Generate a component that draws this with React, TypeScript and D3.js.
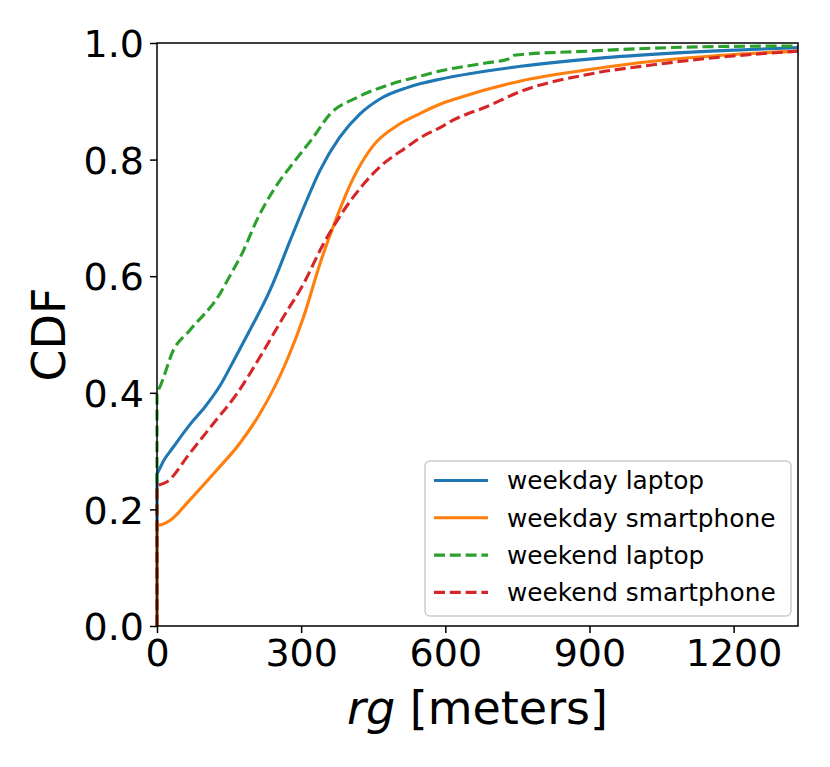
import React, { useEffect, useRef } from 'react';
import * as d3 from 'd3';

// readings (rg in meters, CDF value)
const blueX = [0, 0, 15, 34, 68, 100, 131, 162, 200, 225, 241, 277, 311, 339, 380, 422, 464, 519, 547, 589, 757, 966, 1176, 1334];
const blueY = [0, 0.26, 0.285, 0.307, 0.345, 0.376, 0.412, 0.459, 0.518, 0.558, 0.587, 0.661, 0.729, 0.781, 0.838, 0.878, 0.904, 0.923, 0.93, 0.938, 0.96, 0.977, 0.987, 0.992];

const orangeX = [0, 0, 10, 27, 68, 124, 172, 214, 270, 305, 339, 374, 409, 450, 505, 547, 589, 617, 757, 896, 1037, 1176, 1334];
const orangeY = [0, 0.172, 0.174, 0.181, 0.216, 0.267, 0.313, 0.364, 0.455, 0.53, 0.621, 0.701, 0.769, 0.824, 0.861, 0.879, 0.895, 0.903, 0.935, 0.954, 0.969, 0.979, 0.986];

const greenX = [0, 0, 6, 34, 68, 131, 152, 180, 207, 242, 287, 325, 360, 415, 485, 547, 589, 687, 730, 743, 896, 1106, 1334];
const greenY = [0, 0.4, 0.41, 0.473, 0.507, 0.57, 0.601, 0.644, 0.695, 0.747, 0.798, 0.838, 0.878, 0.906, 0.929, 0.943, 0.952, 0.966, 0.972, 0.979, 0.986, 0.993, 0.995];

const redX = [0, 0, 20, 68, 117, 166, 214, 263, 305, 346, 388, 430, 467, 519, 547, 589, 617, 687, 757, 896, 1037, 1176, 1334];
const redY = [0, 0.241, 0.247, 0.296, 0.347, 0.398, 0.461, 0.53, 0.587, 0.655, 0.712, 0.758, 0.79, 0.821, 0.837, 0.855, 0.868, 0.891, 0.917, 0.946, 0.963, 0.976, 0.986];

const seriesNames = ['weekday laptop', 'weekday smartphone', 'weekend laptop', 'weekend smartphone'];
const xTicks = [0, 300, 600, 900, 1200];
const yTicks = [0, 0.2, 0.4, 0.6, 0.8, 1.0];

const series = [
  { name: seriesNames[0], xs: blueX, ys: blueY, color: '#1f77b4', dashed: false },
  { name: seriesNames[1], xs: orangeX, ys: orangeY, color: '#ff7f0e', dashed: false },
  { name: seriesNames[2], xs: greenX, ys: greenY, color: '#2ca02c', dashed: true },
  { name: seriesNames[3], xs: redX, ys: redY, color: '#d62728', dashed: true },
];

const W = 830;
const H = 767;
const margin = { top: 43, right: 32, bottom: 141, left: 157 };
const FONT = 'DejaVu Sans, sans-serif';

export default function App() {
  const svgRef = useRef<SVGSVGElement>(null);

  useEffect(() => {
    if (!svgRef.current) return;
    const root = d3.select(svgRef.current);
    root.selectAll('*').remove();

    const innerW = W - margin.left - margin.right;
    const innerH = H - margin.top - margin.bottom;

    const x = d3.scaleLinear().domain([0, 1334]).range([0, innerW]);
    const y = d3.scaleLinear().domain([0, 1]).range([innerH, 0]);

    const svg = root.append('g').attr('transform', `translate(${margin.left},${margin.top})`);

    // curves: vertical jump at 0, then a smooth line through the readings
    const line = d3.line<[number, number]>()
      .x((d: [number, number]) => x(d[0]))
      .y((d: [number, number]) => y(d[1]))
      .curve(d3.curveMonotoneX);

    series.forEach((s) => {
      const pts: [number, number][] = s.xs.map((v, i) => [v, s.ys[i]] as [number, number]);
      const rest = line(pts.slice(1)) || '';
      const d = rest.replace(/^M/, `M${x(pts[0][0])},${y(pts[0][1])}L`);
      svg.append('path')
        .attr('d', d)
        .attr('fill', 'none')
        .attr('stroke', s.color)
        .attr('stroke-width', 3.1)
        .attr('stroke-dasharray', s.dashed ? '11,4.8' : null);
    });

    // axes
    const xAxis = svg.append('g')
      .attr('transform', `translate(0,${innerH})`)
      .call(d3.axisBottom(x).tickValues(xTicks).tickSize(7).tickPadding(6).tickFormat(d3.format('d')));
    const yAxis = svg.append('g')
      .call(d3.axisLeft(y).tickValues(yTicks).tickSize(7).tickPadding(6).tickFormat(d3.format('.1f')));

    [xAxis, yAxis].forEach((a) => {
      a.select('.domain').remove();
      a.selectAll('line').attr('stroke', '#000').attr('stroke-width', 1.5);
      a.selectAll('text')
        .attr('fill', '#000')
        .style('font-family', FONT)
        .style('font-size', '38px');
    });
    yAxis.selectAll('text').attr('dy', '0.36em');

    // frame
    svg.append('rect')
      .attr('x', 0)
      .attr('y', 0)
      .attr('width', innerW)
      .attr('height', innerH)
      .attr('fill', 'none')
      .attr('stroke', '#000')
      .attr('stroke-width', 1.5);

    // axis labels
    const xl = root.append('text')
      .attr('x', margin.left + innerW / 2)
      .attr('y', 724)
      .attr('text-anchor', 'middle')
      .style('font-family', FONT)
      .style('font-size', '46px');
    xl.append('tspan').style('font-style', 'italic').text('rg');
    xl.append('tspan').text(' [meters]');

    root.append('text')
      .attr('transform', `translate(65,${margin.top + innerH / 2}) rotate(-90)`)
      .attr('text-anchor', 'middle')
      .style('font-family', FONT)
      .style('font-size', '46px')
      .text('CDF');

    // legend
    const lg = root.append('g');
    lg.append('rect')
      .attr('x', 425)
      .attr('y', 461)
      .attr('width', 366)
      .attr('height', 155)
      .attr('rx', 5)
      .attr('fill', 'white')
      .attr('fill-opacity', 0.8)
      .attr('stroke', '#cccccc')
      .attr('stroke-width', 1.5);

    series.forEach((s, i) => {
      const ry = 480.5 + i * 37.3;
      lg.append('line')
        .attr('x1', 434)
        .attr('x2', 488)
        .attr('y1', ry)
        .attr('y2', ry)
        .attr('stroke', s.color)
        .attr('stroke-width', 3.1)
        .attr('stroke-dasharray', s.dashed ? '11,4.8' : null);
      lg.append('text')
        .attr('x', 507)
        .attr('y', ry)
        .attr('dy', '0.36em')
        .style('font-family', FONT)
        .style('font-size', '24.8px')
        .text(s.name);
    });
  }, []);

  return (
    <svg
      ref={svgRef}
      width={W}
      height={H}
      style={{ position: 'absolute', left: 0, top: 0, background: 'white' }}
    />
  );
}
